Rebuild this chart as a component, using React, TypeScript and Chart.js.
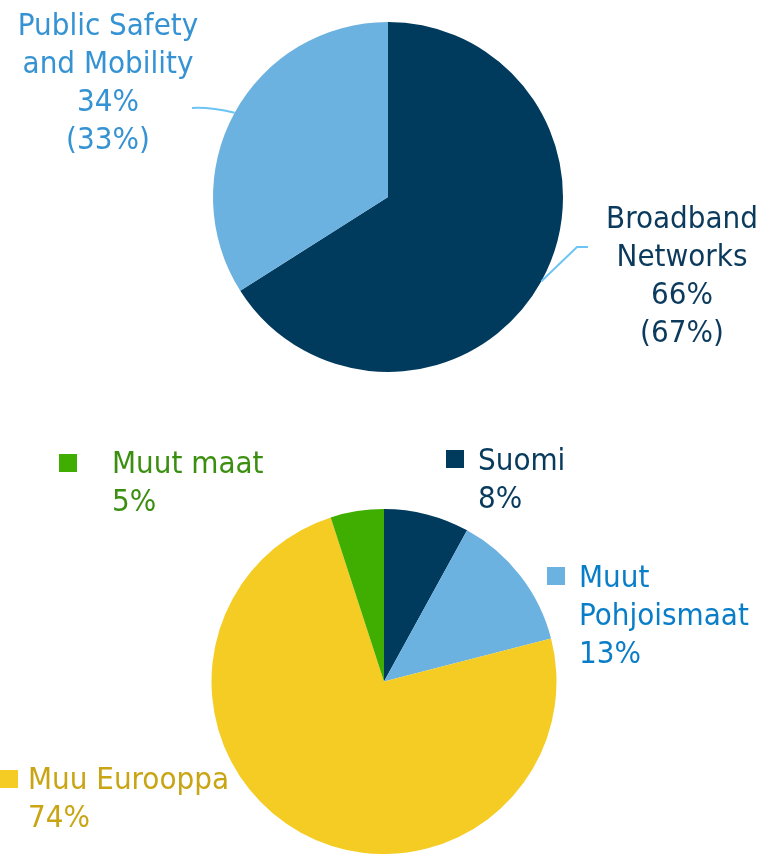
import { useEffect, useRef } from "react";
import { Chart, registerables } from "chart.js";

Chart.register(...registerables);

// ---- data ----
const segmentNames = [["Broadband", "Networks"], ["Public Safety", "and Mobility"]];
const segmentValues = [66, 34];
const segmentPrevValues = [67, 33];

const regionNames = [["Suomi"], ["Muut", "Pohjoismaat"], ["Muu Eurooppa"], ["Muut maat"]];
const regionValues = [8, 13, 74, 5];

// ---- styles ----
const W = 763;
const H = 854;
const FONT_FAMILY = '"DejaVu Sans Condensed", "DejaVu Sans", sans-serif';
const FONT = `31px ${FONT_FAMILY}`;
const LINE_H = 38;

const segmentColors = ["#003a5d", "#6cb2e0"];
const segmentTextColors = ["#0b3a5c", "#3592d3"];
const regionColors = ["#003a5d", "#6cb2e0", "#f5cc23", "#3fae00"];
const regionTextColors = ["#073a5c", "#0a7dc8", "#c9a514", "#3a8f10"];
const leaderColor = "#6cc4f4";

// label layout (centre x, first line y, leader elbow/end)
const segmentLayout = [
  { x: 682, y: 220, elbow: [577, 247], end: [588, 247] },
  { x: 108, y: 27, elbow: [210, 107], end: [192, 108] },
];
const regionLayout = [
  { mx: 446, my: 450, tx: 478, ty: 462 },
  { mx: 547, my: 567, tx: 579, ty: 579 },
  { mx: 0, my: 770, tx: 28, ty: 781 },
  { mx: 59, my: 454, tx: 112, ty: 465 },
];

const topLabelsPlugin = {
  id: "topLabels",
  afterDraw(chart: any) {
    const ctx = chart.ctx;
    const meta = chart.getDatasetMeta(0);
    ctx.save();
    meta.data.forEach((arc: any, i: number) => {
      const p = arc.getProps(["x", "y", "startAngle", "endAngle", "outerRadius"], true);
      const mid = (p.startAngle + p.endAngle) / 2;
      const sx = p.x + Math.cos(mid) * p.outerRadius;
      const sy = p.y + Math.sin(mid) * p.outerRadius;
      const L = segmentLayout[i];
      ctx.strokeStyle = leaderColor;
      ctx.lineWidth = 2;
      ctx.beginPath();
      ctx.moveTo(sx, sy);
      if (i === 0) {
        ctx.lineTo(L.elbow[0], L.elbow[1]);
        ctx.lineTo(L.end[0], L.end[1]);
      } else {
        ctx.quadraticCurveTo(L.elbow[0], L.elbow[1], L.end[0], L.end[1]);
      }
      ctx.stroke();
      const lines = [
        ...segmentNames[i],
        `${segmentValues[i]}%`,
        `(${segmentPrevValues[i]}%)`,
      ];
      ctx.fillStyle = segmentTextColors[i];
      ctx.font = FONT;
      ctx.textAlign = "center";
      ctx.textBaseline = "middle";
      lines.forEach((t, k) => ctx.fillText(t, L.x, L.y + k * LINE_H));
    });
    ctx.restore();
  },
};

const bottomLabelsPlugin = {
  id: "bottomLabels",
  afterDraw(chart: any) {
    const ctx = chart.ctx;
    ctx.save();
    regionNames.forEach((name, i) => {
      const L = regionLayout[i];
      ctx.fillStyle = regionColors[i];
      ctx.fillRect(L.mx, L.my, 18, 18);
      ctx.fillStyle = regionTextColors[i];
      ctx.font = FONT;
      ctx.textAlign = "left";
      ctx.textBaseline = "middle";
      const lines = [...name, `${regionValues[i]}%`];
      lines.forEach((t, k) => ctx.fillText(t, L.tx, L.ty + k * LINE_H));
    });
    ctx.restore();
  },
};

export default function App() {
  const topRef = useRef<HTMLCanvasElement>(null);
  const botRef = useRef<HTMLCanvasElement>(null);

  useEffect(() => {
    const common = {
      responsive: false,
      animation: false as const,
      events: [],
      plugins: { legend: { display: false }, tooltip: { enabled: false } },
    };
    const top = new Chart(topRef.current!, {
      type: "pie",
      data: {
        labels: segmentNames.map((n) => n.join(" ")),
        datasets: [{ data: segmentValues, backgroundColor: segmentColors, borderWidth: 0 }],
      },
      options: {
        ...common,
        layout: { padding: { left: 213, right: W - 563, top: 22, bottom: H - 372 } },
      },
      plugins: [topLabelsPlugin],
    });
    const bot = new Chart(botRef.current!, {
      type: "pie",
      data: {
        labels: regionNames.map((n) => n.join(" ")),
        datasets: [{ data: regionValues, backgroundColor: regionColors, borderWidth: 0 }],
      },
      options: {
        ...common,
        layout: { padding: { left: 210, right: W - 558, top: 509, bottom: H - 857 } },
      },
      plugins: [bottomLabelsPlugin],
    });
    return () => {
      top.destroy();
      bot.destroy();
    };
  }, []);

  const cs: any = { position: "absolute", left: 0, top: 0, width: W, height: H };
  return (
    <div style={{ position: "absolute", left: 0, top: 0, width: W, height: H, overflow: "hidden", background: "#fff" }}>
      <canvas ref={botRef} width={W} height={H} style={cs} />
      <canvas ref={topRef} width={W} height={H} style={cs} />
    </div>
  );
}
